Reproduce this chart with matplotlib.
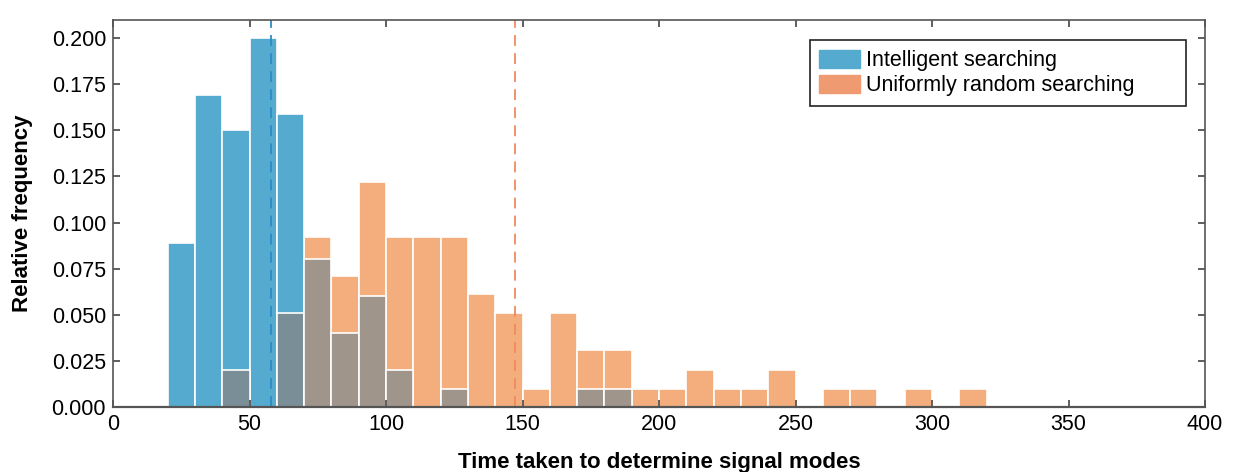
import matplotlib
matplotlib.use("Agg")
import matplotlib.pyplot as plt
import numpy as np

plt.rcParams["font.family"] = ["Liberation Sans", "DejaVu Sans"]

# histogram bins (left edges, width 10)
bin_left = list(range(20, 320, 10))
bin_width = 10

intelligent = [0.089, 0.169, 0.150, 0.200, 0.159, 0.080, 0.040, 0.060, 0.020, 0.0,
               0.010, 0.0, 0.0, 0.0, 0.0, 0.010, 0.010, 0.0, 0.0, 0.0,
               0.0, 0.0, 0.0, 0.0, 0.0, 0.0, 0.0, 0.0, 0.0, 0.0]
uniform = [0.0, 0.0, 0.020, 0.0, 0.051, 0.092, 0.071, 0.122, 0.092, 0.092,
           0.092, 0.061, 0.051, 0.010, 0.051, 0.031, 0.031, 0.010, 0.010, 0.020,
           0.010, 0.010, 0.020, 0.0, 0.010, 0.010, 0.0, 0.010, 0.0, 0.010]

mean_intelligent = 57.9
mean_uniform = 147.2

BLUE = "#55aacf"
ORANGE = "#f4ae7e"
LEG_ORANGE = "#f09a72"
GREY_BLUE = "#7a8e98"
GREY_BROWN = "#a0958b"

x = np.array(bin_left)
a = np.array(intelligent)
b = np.array(uniform)
overlap = np.minimum(a, b)
over_col = [GREY_BLUE if ai >= bi else GREY_BROWN for ai, bi in zip(a, b)]

fig = plt.figure(figsize=(12.33, 4.72), dpi=100)
ax = fig.add_axes([113 / 1233, 1 - 407 / 472, (1205 - 113) / 1233, (407 - 20) / 472])

bar_kw = dict(width=bin_width, align="edge", edgecolor="white", linewidth=1.2)
ax.bar(x, a, color=BLUE, **bar_kw)
ax.bar(x, b, color=ORANGE, **bar_kw)
# blue bars that are taller than orange stay on top
mask = a > b
ax.bar(x[mask], a[mask], color=BLUE, **bar_kw)
ax.bar(x, overlap, color=over_col, **bar_kw)

ax.axvline(mean_intelligent, color="#2b8cc4", ls=(0, (6, 4)), lw=1.3)
ax.axvline(mean_uniform, color="#ee8a60", ls=(0, (6, 4)), lw=1.3)

ax.set_xlim(0, 400)
ax.set_ylim(0, 0.2098)
ax.set_xticks(range(0, 401, 50))
ax.set_yticks(np.arange(0, 0.201, 0.025))
ax.yaxis.set_major_formatter(matplotlib.ticker.FormatStrFormatter("%.3f"))
ax.tick_params(direction="in", length=5, width=1.2, color="#444444", labelsize=15.5,
               top=True, right=True, pad=5)
for s in ax.spines.values():
    s.set_color("#555555")
    s.set_linewidth(1.2)
ax.spines["bottom"].set_linewidth(1.6)

ax.set_xlabel("Time taken to determine signal modes", fontsize=16, fontweight="bold", labelpad=12)
ax.set_ylabel("Relative frequency", fontsize=16, fontweight="bold", labelpad=13)

handles = [plt.Rectangle((0, 0), 1, 1, color=BLUE), plt.Rectangle((0, 0), 1, 1, color=LEG_ORANGE)]
leg = ax.legend(handles, ["Intelligent searching", "Uniformly random searching"],
                loc="upper left", bbox_to_anchor=(0.638, 0.5, 0.3446, 0.448), mode="expand",
                fontsize=15.5, fancybox=False, framealpha=1, edgecolor="#222222",
                handlelength=1.9, handleheight=0.9, handletextpad=0.25, borderpad=0.45,
                labelspacing=0.18, borderaxespad=0)
leg.get_frame().set_linewidth(1.2)

fig.savefig("out.png", dpi=100)
